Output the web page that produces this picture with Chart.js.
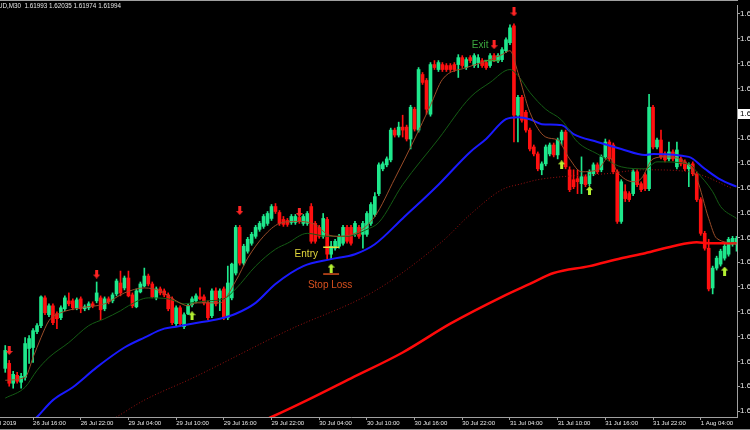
<!DOCTYPE html>
<html>
<head>
<meta charset="utf-8">
<script src="https://cdn.jsdelivr.net/npm/chart.js@4.4.1/dist/chart.umd.min.js"></script>
<style>
  html, body { margin: 0; padding: 0; background: #000; }
  body { width: 750px; height: 430px; overflow: hidden; position: relative; }
  .chart-box { position: absolute; left: -40px; top: 0; width: 830px; height: 430px; }
  .chart-head { position: absolute; left: -2px; top: 3px; color: #e6e6e6; font: 6.3px "Liberation Sans", Arial, sans-serif; white-space: pre; line-height: 1; }
  .page-foot { position: absolute; left: 0; top: 429px; width: 750px; height: 1px; background: #8c8c8c; }
</style>
</head>
<body>
<div class="chart-box"><canvas id="priceChart" width="830" height="430"></canvas></div>
<div class="chart-head">UD,M30  1.61993 1.62035 1.61974 1.61994</div>
<div class="page-foot"></div>
<script>
// M30 candles, bar 0 is the first one on the left
const opens = [
  1.6043, 1.6048, 1.6028, 1.6036, 1.6029, 1.6034, 1.6063, 1.6064, 1.6080, 1.6086,
  1.6114, 1.6097, 1.6106, 1.6098, 1.6094, 1.6103, 1.6111, 1.6111, 1.6104, 1.6113,
  1.6103, 1.6104, 1.6108, 1.6111, 1.6114, 1.6103, 1.6113, 1.6111, 1.6118, 1.6129,
  1.6124, 1.6134, 1.6117, 1.6105, 1.6120, 1.6126, 1.6136, 1.6128, 1.6114, 1.6123,
  1.6121, 1.6117, 1.6113, 1.6088, 1.6104, 1.6085, 1.6098, 1.6107, 1.6111, 1.6115,
  1.6115, 1.6109, 1.6096, 1.6121, 1.6114, 1.6123, 1.6094, 1.6114, 1.6139, 1.6185,
  1.6149, 1.6161, 1.6169, 1.6176, 1.6183, 1.6186, 1.6189, 1.6194, 1.6206, 1.6200,
  1.6193, 1.6192, 1.6190, 1.6190, 1.6195, 1.6189, 1.6189, 1.6206, 1.6189, 1.6185,
  1.6176, 1.6193, 1.6158, 1.6164, 1.6166, 1.6169, 1.6185, 1.6185, 1.6178, 1.6185,
  1.6178, 1.6178, 1.6189, 1.6198, 1.6219, 1.6244, 1.6248, 1.6253, 1.6283, 1.6278,
  1.6286, 1.6286, 1.6274, 1.6304, 1.6283, 1.6339, 1.6333, 1.6299, 1.6349, 1.6344,
  1.6349, 1.6348, 1.6348, 1.6349, 1.6349, 1.6356, 1.6346, 1.6356, 1.6348, 1.6351,
  1.6353, 1.6351, 1.6348, 1.6358, 1.6353, 1.6354, 1.6363, 1.6371, 1.6388, 1.6298,
  1.6316, 1.6301, 1.6283, 1.6266, 1.6259, 1.6243, 1.6249, 1.6259, 1.6268, 1.6258,
  1.6273, 1.6281, 1.6243, 1.6233, 1.6234, 1.6229, 1.6236, 1.6229, 1.6239, 1.6248,
  1.6243, 1.6256, 1.6271, 1.6268, 1.6241, 1.6191, 1.6221, 1.6219, 1.6219, 1.6241,
  1.6229, 1.6238, 1.6224, 1.6306, 1.6266, 1.6273, 1.6259, 1.6254, 1.6261, 1.6246,
  1.6254, 1.6251, 1.6244, 1.6249, 1.6239, 1.6213, 1.6179, 1.6164, 1.6124, 1.6144,
  1.6148, 1.6154, 1.6158, 1.6168, 1.6168
];
const highs = [
  1.6066, 1.6051, 1.6040, 1.6039, 1.6038, 1.6074, 1.6076, 1.6083, 1.6088, 1.6116,
  1.6116, 1.6108, 1.6108, 1.6100, 1.6106, 1.6116, 1.6119, 1.6113, 1.6114, 1.6115,
  1.6107, 1.6110, 1.6110, 1.6130, 1.6116, 1.6115, 1.6115, 1.6119, 1.6133, 1.6141,
  1.6136, 1.6141, 1.6119, 1.6123, 1.6130, 1.6144, 1.6138, 1.6130, 1.6125, 1.6125,
  1.6123, 1.6119, 1.6115, 1.6106, 1.6106, 1.6099, 1.6108, 1.6115, 1.6118, 1.6124,
  1.6117, 1.6111, 1.6123, 1.6124, 1.6123, 1.6125, 1.6146, 1.6149, 1.6187, 1.6187,
  1.6168, 1.6175, 1.6180, 1.6187, 1.6191, 1.6198, 1.6201, 1.6208, 1.6209, 1.6202,
  1.6196, 1.6194, 1.6198, 1.6198, 1.6197, 1.6198, 1.6201, 1.6209, 1.6191, 1.6187,
  1.6199, 1.6195, 1.6171, 1.6173, 1.6178, 1.6187, 1.6187, 1.6187, 1.6191, 1.6187,
  1.6191, 1.6201, 1.6210, 1.6220, 1.6250, 1.6251, 1.6256, 1.6285, 1.6285, 1.6291,
  1.6298, 1.6288, 1.6308, 1.6306, 1.6346, 1.6341, 1.6335, 1.6351, 1.6353, 1.6353,
  1.6351, 1.6350, 1.6350, 1.6351, 1.6359, 1.6358, 1.6356, 1.6358, 1.6360, 1.6359,
  1.6355, 1.6353, 1.6360, 1.6360, 1.6360, 1.6366, 1.6376, 1.6389, 1.6390, 1.6318,
  1.6318, 1.6303, 1.6285, 1.6268, 1.6261, 1.6251, 1.6268, 1.6270, 1.6270, 1.6275,
  1.6283, 1.6283, 1.6246, 1.6243, 1.6243, 1.6256, 1.6238, 1.6243, 1.6250, 1.6250,
  1.6258, 1.6274, 1.6273, 1.6270, 1.6243, 1.6233, 1.6228, 1.6221, 1.6243, 1.6243,
  1.6231, 1.6240, 1.6319, 1.6308, 1.6275, 1.6283, 1.6261, 1.6271, 1.6263, 1.6271,
  1.6256, 1.6253, 1.6250, 1.6251, 1.6241, 1.6215, 1.6181, 1.6173, 1.6146, 1.6156,
  1.6163, 1.6168, 1.6175, 1.6176, 1.6176
];
const lows = [
  1.6039, 1.6025, 1.6023, 1.6028, 1.6023, 1.6031, 1.6048, 1.6049, 1.6078, 1.6084,
  1.6097, 1.6095, 1.6087, 1.6083, 1.6092, 1.6101, 1.6106, 1.6102, 1.6102, 1.6099,
  1.6101, 1.6102, 1.6104, 1.6109, 1.6092, 1.6101, 1.6108, 1.6109, 1.6116, 1.6116,
  1.6122, 1.6115, 1.6104, 1.6104, 1.6119, 1.6125, 1.6126, 1.6114, 1.6112, 1.6117,
  1.6115, 1.6101, 1.6087, 1.6086, 1.6086, 1.6083, 1.6097, 1.6105, 1.6109, 1.6112,
  1.6107, 1.6092, 1.6094, 1.6106, 1.6101, 1.6092, 1.6092, 1.6112, 1.6137, 1.6147,
  1.6147, 1.6159, 1.6167, 1.6174, 1.6181, 1.6184, 1.6187, 1.6192, 1.6199, 1.6187,
  1.6186, 1.6186, 1.6188, 1.6188, 1.6189, 1.6187, 1.6187, 1.6169, 1.6169, 1.6174,
  1.6174, 1.6153, 1.6153, 1.6162, 1.6164, 1.6167, 1.6169, 1.6167, 1.6176, 1.6174,
  1.6164, 1.6176, 1.6187, 1.6196, 1.6217, 1.6242, 1.6246, 1.6251, 1.6276, 1.6276,
  1.6276, 1.6272, 1.6264, 1.6282, 1.6281, 1.6329, 1.6299, 1.6297, 1.6344, 1.6342,
  1.6342, 1.6342, 1.6342, 1.6342, 1.6336, 1.6346, 1.6344, 1.6351, 1.6346, 1.6346,
  1.6346, 1.6344, 1.6346, 1.6352, 1.6351, 1.6352, 1.6361, 1.6369, 1.6271, 1.6271,
  1.6291, 1.6281, 1.6262, 1.6257, 1.6242, 1.6238, 1.6247, 1.6257, 1.6256, 1.6254,
  1.6268, 1.6244, 1.6221, 1.6224, 1.6219, 1.6219, 1.6226, 1.6227, 1.6237, 1.6239,
  1.6241, 1.6254, 1.6252, 1.6239, 1.6189, 1.6189, 1.6211, 1.6211, 1.6217, 1.6226,
  1.6221, 1.6222, 1.6222, 1.6264, 1.6264, 1.6254, 1.6251, 1.6252, 1.6252, 1.6244,
  1.6247, 1.6242, 1.6226, 1.6237, 1.6211, 1.6177, 1.6162, 1.6121, 1.6118, 1.6142,
  1.6146, 1.6152, 1.6156, 1.6166, 1.6161
];
const closes = [
  1.6061, 1.6028, 1.6037, 1.6030, 1.6035, 1.6068, 1.6073, 1.6081, 1.6086, 1.6115,
  1.6099, 1.6106, 1.6089, 1.6093, 1.6104, 1.6114, 1.6108, 1.6104, 1.6112, 1.6103,
  1.6105, 1.6108, 1.6106, 1.6119, 1.6102, 1.6113, 1.6110, 1.6117, 1.6131, 1.6119,
  1.6134, 1.6116, 1.6106, 1.6121, 1.6128, 1.6136, 1.6128, 1.6115, 1.6123, 1.6119,
  1.6117, 1.6103, 1.6089, 1.6104, 1.6088, 1.6097, 1.6106, 1.6113, 1.6116, 1.6113,
  1.6109, 1.6094, 1.6121, 1.6108, 1.6121, 1.6094, 1.6129, 1.6148, 1.6185, 1.6149,
  1.6166, 1.6173, 1.6178, 1.6185, 1.6189, 1.6196, 1.6199, 1.6206, 1.6201, 1.6189,
  1.6188, 1.6188, 1.6196, 1.6196, 1.6191, 1.6196, 1.6199, 1.6171, 1.6171, 1.6176,
  1.6194, 1.6158, 1.6166, 1.6171, 1.6176, 1.6185, 1.6171, 1.6169, 1.6189, 1.6176,
  1.6189, 1.6199, 1.6208, 1.6216, 1.6248, 1.6249, 1.6254, 1.6283, 1.6278, 1.6286,
  1.6283, 1.6274, 1.6306, 1.6284, 1.6344, 1.6331, 1.6304, 1.6349, 1.6346, 1.6351,
  1.6344, 1.6344, 1.6344, 1.6344, 1.6356, 1.6348, 1.6354, 1.6353, 1.6358, 1.6356,
  1.6348, 1.6346, 1.6358, 1.6354, 1.6358, 1.6364, 1.6374, 1.6386, 1.6298, 1.6316,
  1.6293, 1.6283, 1.6264, 1.6259, 1.6244, 1.6249, 1.6266, 1.6268, 1.6258, 1.6273,
  1.6281, 1.6246, 1.6223, 1.6226, 1.6231, 1.6236, 1.6228, 1.6241, 1.6248, 1.6241,
  1.6256, 1.6271, 1.6254, 1.6241, 1.6191, 1.6231, 1.6214, 1.6213, 1.6241, 1.6228,
  1.6223, 1.6224, 1.6306, 1.6266, 1.6273, 1.6256, 1.6253, 1.6261, 1.6254, 1.6263,
  1.6249, 1.6244, 1.6248, 1.6239, 1.6213, 1.6179, 1.6164, 1.6123, 1.6144, 1.6154,
  1.6161, 1.6166, 1.6173, 1.6174, 1.6174
];

// moving averages, read at some bars
const blueBars = [4, 8, 12, 17, 23, 30, 35, 40, 43, 47, 54, 58, 63, 68, 75, 82, 88, 93, 100, 109,
  117, 121, 126, 129, 132, 135, 140, 143, 149, 155, 161, 163, 172, 176, 180, 184];
const blueVals = [1.5979, 1.5994, 1.6011, 1.6024, 1.6044, 1.6064, 1.6074, 1.6083, 1.6085, 1.6088,
  1.6093, 1.6098, 1.6109, 1.6128, 1.6146, 1.6153, 1.6158, 1.6168, 1.6194, 1.6228,
  1.6261, 1.6274, 1.6294, 1.6296, 1.6294, 1.6289, 1.6288, 1.6279, 1.6271, 1.6264,
  1.6258, 1.6259, 1.6256, 1.6244, 1.6233, 1.6226];
const slowBars = [60, 67, 76, 87, 100, 112, 125, 132, 138, 147, 155, 161, 168, 174, 177, 184];
const slowVals = [1.5982, 1.5994, 1.6011, 1.6033, 1.6059, 1.6088, 1.6115, 1.6128, 1.6139, 1.6146,
  1.6154, 1.6159, 1.6166, 1.6170, 1.6169, 1.6169];
const dotBars = [22, 28, 35, 47, 71, 93, 110, 117, 125, 130, 134, 140, 151, 161, 172, 175, 183];
const dotVals = [1.5980, 1.5994, 1.6011, 1.6033, 1.6081, 1.6121, 1.6171, 1.6198, 1.6223, 1.6229,
  1.6233, 1.6236, 1.6239, 1.6243, 1.6241, 1.6238, 1.6224];
const greenBars = [0, 5, 8, 11, 16, 21, 25, 29, 31, 36, 41, 45, 47, 51, 55, 58, 63, 68, 71, 76,
  81, 86, 91, 94, 100, 109, 117, 122, 127, 129, 132, 136, 140, 144, 149, 155, 161, 164, 172, 174,
  178, 180, 184];
const greenVals = [1.6013, 1.6024, 1.6041, 1.6054, 1.6069, 1.6086, 1.6093, 1.6101, 1.6106, 1.6114,
  1.6113, 1.6108, 1.6109, 1.6111, 1.6113, 1.6123, 1.6146, 1.6163, 1.6169, 1.6179,
  1.6176, 1.6176, 1.6183, 1.6190, 1.6228, 1.6274, 1.6316, 1.6331, 1.6344, 1.6338,
  1.6321, 1.6304, 1.6293, 1.6271, 1.6259, 1.6246, 1.6244, 1.6251, 1.6249, 1.6241,
  1.6221, 1.6206, 1.6194];
const fastBars = [0, 5, 7, 9, 11, 14, 19, 25, 30, 35, 39, 43, 46, 48, 54, 58, 61, 65, 69, 73,
  78, 81, 84, 89, 93, 98, 103, 107, 110, 116, 120, 125, 127, 129, 132, 136, 139, 142, 145, 149,
  152, 154, 158, 160, 163, 166, 171, 174, 177, 179, 184];
const fastVals = [1.6031, 1.6034, 1.6054, 1.6074, 1.6091, 1.6099, 1.6104, 1.6108, 1.6119, 1.6124,
  1.6121, 1.6111, 1.6106, 1.6109, 1.6109, 1.6131, 1.6154, 1.6176, 1.6189, 1.6191,
  1.6188, 1.6178, 1.6176, 1.6181, 1.6196, 1.6234, 1.6274, 1.6308, 1.6334, 1.6346,
  1.6351, 1.6359, 1.6363, 1.6341, 1.6301, 1.6276, 1.6273, 1.6254, 1.6241, 1.6243,
  1.6256, 1.6241, 1.6231, 1.6234, 1.6254, 1.6256, 1.6251, 1.6234, 1.6194, 1.6174,
  1.6169];

// signal arrows
const downBars = [1, 23, 59, 74, 123, 128];
const downPrices = [1.6061, 1.6138, 1.6202, 1.6200, 1.6369, 1.6402];
const upBars = [47, 82, 140, 147, 181];
const upPrices = [1.6096, 1.6144, 1.6248, 1.6222, 1.6141];

// trade marks
const entryBars = [80, 84];
const entryPrice = 1.6165;
const stopBars = [80, 84];
const stopPrice = 1.6138;
const exitBars = [120.5, 124.5];
const exitPrice = 1.6353;
const noteTexts = ['Entry', 'Stop Loss', 'Exit'];
const noteBars = [75.75, 81.75, 119.5];
const notePrices = [1.6158, 1.6127, 1.6368];
const noteColors = ['#e2d83c', '#d8501e', '#3aa63e'];

// axes
const timeTicks = [-5, 7, 19, 31, 43, 55, 67, 79, 91, 103, 115, 127, 139, 151, 163, 175];
const timeLabels = ['26 Jul 2019', '26 Jul 16:00', '26 Jul 22:00', '29 Jul 04:00', '29 Jul 10:00',
  '29 Jul 16:00', '29 Jul 22:00', '30 Jul 04:00', '30 Jul 10:00', '30 Jul 16:00', '30 Jul 22:00',
  '31 Jul 04:00', '31 Jul 10:00', '31 Jul 16:00', '31 Jul 22:00', '1 Aug 04:00'];
const priceTicks = [1.6400, 1.6375, 1.6350, 1.6325, 1.6300, 1.6275, 1.6250, 1.6225, 1.6200,
  1.6175, 1.6150, 1.6125, 1.6100, 1.6075, 1.6050, 1.6025, 1.6000];
const bidPrice = 1.62990;

const bullColor = '#1ee88c';
const bearColor = '#ff1010';
const axisColor = '#a0a0a0';
const labelColor = '#e8e8e8';
const smallFont = { family: '"Liberation Sans", Arial, sans-serif', size: 6 };
const priceFont = { family: '"Liberation Sans", Arial, sans-serif', size: 8 };

const bars = opens.map((o, i) => i);
const candleColors = bars.map(i => closes[i] >= opens[i] ? bullColor : bearColor);

function points(xs, ys) {
  return xs.map((x, k) => ({ x: x, y: ys[k] }));
}

function arrowImage(color, up) {
  const c = document.createElement('canvas');
  c.width = 7;
  c.height = 9;
  const g = c.getContext('2d');
  g.fillStyle = color;
  g.beginPath();
  if (up) {
    g.moveTo(3.5, 0); g.lineTo(7, 4); g.lineTo(5, 4); g.lineTo(5, 9);
    g.lineTo(2, 9); g.lineTo(2, 4); g.lineTo(0, 4);
  } else {
    g.moveTo(3.5, 9); g.lineTo(7, 5); g.lineTo(5, 5); g.lineTo(5, 0);
    g.lineTo(2, 0); g.lineTo(2, 5); g.lineTo(0, 5);
  }
  g.closePath();
  g.fill();
  return c;
}

function maLine(xs, ys, color, width, dash) {
  return {
    type: 'line', data: points(xs, ys), borderColor: color, borderWidth: width,
    borderDash: dash || [], pointRadius: 0, cubicInterpolationMode: 'monotone',
    clip: 0, order: 2
  };
}

function segment(xs, price, color) {
  return {
    type: 'line', data: [{ x: xs[0], y: price }, { x: xs[1], y: price }],
    borderColor: color, borderWidth: 1.5, pointRadius: 0, order: 1
  };
}

// frame + bid tag
const mtFrame = {
  id: 'mtFrame',
  beforeDraw(chart) {
    const c = chart.ctx, a = chart.chartArea;
    c.save();
    c.fillStyle = '#000';
    c.fillRect(0, 0, chart.width, chart.height);
    c.fillStyle = axisColor;
    c.fillRect(0, 0, a.right + 1, 1);
    c.restore();
  },
  afterDraw(chart) {
    const c = chart.ctx, a = chart.chartArea;
    const y = Math.round(chart.scales.y.getPixelForValue(bidPrice));
    c.save();
    c.fillStyle = '#fff';
    c.fillRect(a.right + 1, y - 5, chart.width - a.right, 10);
    c.fillStyle = '#000';
    c.font = '8px "Liberation Sans", Arial, sans-serif';
    c.textBaseline = 'middle';
    c.fillText(bidPrice.toFixed(5), a.right + 3, y);
    c.restore();
  }
};

const tradeNotes = {
  id: 'tradeNotes',
  afterDatasetsDraw(chart) {
    const c = chart.ctx, xs = chart.scales.x, ys = chart.scales.y;
    c.save();
    c.font = '10px "Liberation Sans", Arial, sans-serif';
    c.textAlign = 'center';
    c.textBaseline = 'middle';
    noteTexts.forEach((t, k) => {
      c.fillStyle = noteColors[k];
      c.fillText(t, xs.getPixelForValue(noteBars[k]), ys.getPixelForValue(notePrices[k]));
    });
    c.restore();
  }
};

function priceChart() {
  const ctx = document.getElementById('priceChart');
  return new Chart(ctx, {
    type: 'bar',
    data: {
      datasets: [
        { type: 'line', showLine: false, data: points(downBars, downPrices),
          pointStyle: arrowImage('#ff2424', false), pointRadius: 3, order: 0 },
        { type: 'line', showLine: false, data: points(upBars, upPrices),
          pointStyle: arrowImage('#b4f032', true), pointRadius: 3, order: 0 },
        segment(entryBars, entryPrice, '#e8dc3c'),
        segment(stopBars, stopPrice, '#d8501e'),
        segment(exitBars, exitPrice, '#3aa63e'),
        maLine(fastBars, fastVals, '#9a4c28', 1),
        maLine(greenBars, greenVals, '#145c14', 1),
        maLine(dotBars, dotVals, '#9a1010', 1, [1, 2]),
        maLine(blueBars, blueVals, '#1a1aff', 2),
        maLine(slowBars, slowVals, '#ff0a0a', 2.5),
        { type: 'bar', data: bars.map(i => ({ x: i, y: [opens[i], closes[i]] })),
          backgroundColor: candleColors, barThickness: 3, grouped: false, order: 5 },
        { type: 'bar', data: bars.map(i => ({ x: i, y: [lows[i], highs[i]] })),
          backgroundColor: candleColors, barThickness: 1, grouped: false, order: 6 }
      ]
    },
    options: {
      responsive: false,
      animation: false,
      events: [],
      layout: { padding: { top: 2, left: 0, right: 0, bottom: 0 } },
      plugins: { legend: { display: false }, tooltip: { enabled: false } },
      scales: {
        x: {
          type: 'linear', position: 'bottom', offset: false,
          min: -10.125, max: 184.125,
          grid: { drawOnChartArea: false, offset: false, color: axisColor, tickLength: 3 },
          border: { color: axisColor },
          afterBuildTicks: s => { s.ticks = timeTicks.map(v => ({ value: v })); },
          afterFit: s => { s.height = 13; s.paddingLeft = 0; s.paddingRight = 0; },
          ticks: {
            align: 'start', autoSkip: false, maxRotation: 0, padding: 0,
            color: labelColor, font: smallFont,
            callback: (v, i) => timeLabels[i]
          }
        },
        y: {
          type: 'linear', position: 'right',
          min: 1.5994, max: 1.6409,
          grid: { drawOnChartArea: false, color: axisColor, tickLength: 3 },
          border: { color: axisColor },
          afterBuildTicks: s => { s.ticks = priceTicks.map(v => ({ value: v })); },
          afterFit: s => { s.width = 53; s.paddingTop = 0; s.paddingBottom = 0; },
          ticks: { padding: 0, color: labelColor, font: priceFont, callback: v => v.toFixed(5) }
        }
      }
    },
    plugins: [mtFrame, tradeNotes]
  });
}

priceChart();
</script>
</body>
</html>
